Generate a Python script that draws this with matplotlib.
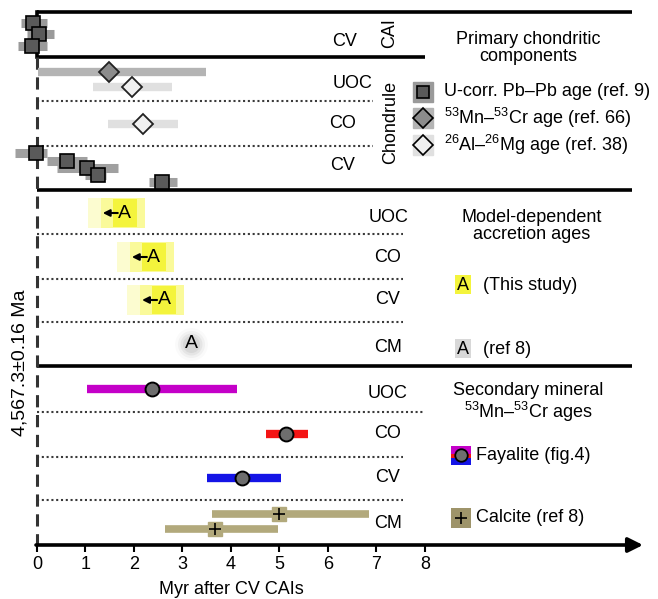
import matplotlib
matplotlib.use('Agg')
import matplotlib.pyplot as plt
from matplotlib.patches import Rectangle

plt.rcParams['font.family'] = ['Liberation Sans', 'DejaVu Sans']
plt.rcParams['mathtext.fontset'] = 'custom'
plt.rcParams['mathtext.rm'] = 'Liberation Sans'
plt.rcParams['mathtext.default'] = 'regular'

# ---- data (Myr after CV CAIs) ----
cai_age = [-0.08, 0.05, -0.10]
cai_lo = [-0.33, -0.20, -0.40]
cai_hi = [0.20, 0.35, 0.20]

uoc_mncr_age, uoc_mncr_lo, uoc_mncr_hi = 1.48, 0.02, 3.48
almg_groups = ['UOC', 'CO']
almg_age = [1.96, 2.18]
almg_lo = [1.16, 1.46]
almg_hi = [2.78, 2.90]

cv_pbpb_age = [-0.03, 0.61, 1.04, 1.26, 2.58]
cv_pbpb_lo = [-0.45, 0.20, 0.42, 1.00, 2.30]
cv_pbpb_hi = [0.20, 1.04, 1.68, 1.42, 2.88]

accr_groups = ['UOC', 'CO', 'CV', 'CM']
accr_age = [1.81, 2.41, 2.62, 3.18]
accr_upper = [True, True, True, False]

fay_groups = ['UOC', 'CO', 'CV']
fay_age = [2.37, 5.13, 4.22]
fay_lo = [1.03, 4.72, 3.50]
fay_hi = [4.12, 5.59, 5.03]
fay_colors = ['#c400c8', '#f41414', '#1414e6']

cal_age = [4.98, 3.67]
cal_lo = [3.60, 2.63]
cal_hi = [6.85, 4.96]

xticks = list(range(0, 9))

# ---- layout (pixel rows) ----
W, H = 658, 599
x0px, pxmyr = 37, 48.5
row_cai = [23, 34, 46]
row_uoc_mncr = 72
row_almg = [87, 124]
row_cv_pbpb = [153, 161, 168, 175, 182]
row_accr = [213, 257, 300, 344]
row_fay = [389, 434, 478]
row_cal = [514, 529]

fig = plt.figure(figsize=(W / 100, H / 100), dpi=100)
ax = fig.add_axes([0, 0, 1, 1])
ax.set_xlim(-x0px / pxmyr, (W - x0px) / pxmyr)
ax.set_ylim(H, 0)
ax.patch.set_visible(False)
for s in ['top', 'left', 'right', 'bottom']:
    ax.spines[s].set_visible(False)
ax.spines['bottom'].set_position(('data', 545))
ax.set_yticks([])
ax.set_xticks(xticks)
ax.tick_params(axis='x', length=5, width=1.5, labelsize=13, pad=3)

lay = fig.add_axes([0, 0, 1, 1], zorder=-1)
lay.set_xlim(0, W)
lay.set_ylim(H, 0)
lay.axis('off')

def mx(px):
    return px / pxmyr

# separators
for y, x1, lw in [(12, 632, 2.6), (57, 425, 2.6), (190, 632, 2.6), (366, 632, 2.6)]:
    lay.plot([x0px, x1], [y, y], color='black', lw=lw, solid_capstyle='butt')
for y, x1 in [(101, 373), (146, 373), (234, 403), (279, 403), (322, 403),
              (412, 423), (457, 403), (500, 403)]:
    lay.plot([x0px, x1], [y, y], color='#3a3a3a', lw=1.5, ls=(0, (1, 1.3)))
lay.plot([x0px, x0px], [12, 57], color='black', lw=2.6)
lay.plot([x0px, x0px], [57, 545], color='#333333', lw=2.2, ls=(0, (4, 2.5)))
lay.annotate('', xy=(643, 545), xytext=(x0px - 1, 545),
             arrowprops=dict(arrowstyle='-|>', lw=2.6, color='black',
                             mutation_scale=22, shrinkA=0, shrinkB=0))

# ---- primary components ----
ax.hlines(row_cai, cai_lo, cai_hi, color='#9a9a9a', lw=6.5, capstyle='butt', zorder=2)
ax.plot(cai_age, row_cai, 's', ms=9.5, mfc='#5a5a5a', mec='black', mew=1.2, ls='none', zorder=3)

ax.hlines(row_uoc_mncr, uoc_mncr_lo, uoc_mncr_hi, color='#b4b4b4', lw=6, capstyle='butt', zorder=2)
ax.plot(uoc_mncr_age, row_uoc_mncr, 'D', ms=10, mfc='#8c8c8c', mec='#222222', mew=1.3, zorder=3)
ax.hlines(row_almg, almg_lo, almg_hi, color='#e0e0e0', lw=6, capstyle='butt', zorder=2)
ax.plot(almg_age, row_almg, 'D', ms=10, mfc='#f0f0f0', mec='#222222', mew=1.3, ls='none', zorder=3)

ax.hlines(row_cv_pbpb, cv_pbpb_lo, cv_pbpb_hi, color='#a0a0a0', lw=6.5, capstyle='butt', zorder=2)
ax.plot(cv_pbpb_age, row_cv_pbpb, 's', ms=9.5, mfc='#5a5a5a', mec='black', mew=1.2, ls='none', zorder=3)

tk = dict(fontsize=13, ha='center', va='center')
lay.text(345, 42, 'CV', **tk)
lay.text(390, 33, 'CAI', rotation=90, **tk)
lay.text(353, 83, 'UOC', **tk)
lay.text(343, 124, 'CO', **tk)
lay.text(343, 166, 'CV', **tk)
lay.text(391, 122, 'Chondrule', rotation=90, **tk)
lay.text(528, 48, 'Primary chondritic\ncomponents', linespacing=1.05, **tk)

leg_x = 423
for y, fc, bg, mk in [(92, '#5a5a5a', '#9a9a9a', 's'), (118, '#8c8c8c', '#b4b4b4', 'D'),
                      (145, '#f0f0f0', '#e0e0e0', 'D')]:
    lay.add_patch(Rectangle((leg_x - 10, y - 10), 20, 20, color=bg, zorder=2))
    lay.plot(leg_x, y, mk, ms=9 if mk == 's' else 10, mfc=fc, mec='black', mew=1.2, zorder=3)
lt = dict(fontsize=13, ha='left', va='center')
lay.text(444, 92, 'U-corr. Pb–Pb age (ref. 9)', **lt)
lay.text(444, 118, '$^{53}$Mn–$^{53}$Cr age (ref. 66)', **lt)
lay.text(444, 145, '$^{26}$Al–$^{26}$Mg age (ref. 38)', **lt)

# ---- accretion ages ----
for age, y, up in zip(accr_age, row_accr, accr_upper):
    if up:
        ax.add_patch(Rectangle((age - mx(37), y - 15), mx(57), 30, color='#fcfcd0', lw=0, zorder=1))
        ax.add_patch(Rectangle((age - mx(24), y - 15), mx(44), 30, color='#fafa9a', lw=0, zorder=1))
        ax.add_patch(Rectangle((age - mx(12), y - 14), mx(24), 28, color='#f4f43c', lw=0, zorder=1))
        ax.annotate('', xy=(age - mx(22), y), xytext=(age - mx(7), y),
                    arrowprops=dict(arrowstyle='-|>', lw=1.5, color='black',
                                    mutation_scale=10, shrinkA=0, shrinkB=0), zorder=3)
    else:
        for s, a in [(560, 0.04), (380, 0.07), (250, 0.10), (150, 0.12)]:
            ax.scatter(age, y, s=s, color='#808080', alpha=a, lw=0, zorder=1)
    ax.text(age, y, 'A', fontsize=14, ha='center', va='center', zorder=4)

for g, y in zip(accr_groups, [218, 257, 300, 347]):
    lay.text(388 if g != 'UOC' else 389, y, g, **tk)
lay.text(532, 226, 'Model-dependent\naccretion ages', linespacing=1.05, **tk)
lay.add_patch(Rectangle((455, 275), 16, 19, color='#f4f43c', lw=0))
lay.text(463, 285, 'A', **tk)
lay.text(483, 285, '(This study)', **lt)
lay.add_patch(Rectangle((455, 339), 16, 19, color='#d8d8d8', lw=0))
lay.text(463, 349, 'A', **tk)
lay.text(483, 349, '(ref 8)', **lt)

# ---- secondary minerals ----
for lo, hi, age, y, c in zip(fay_lo, fay_hi, fay_age, row_fay, fay_colors):
    ax.hlines(y, lo, hi, color=c, lw=6, capstyle='butt', zorder=2)
    ax.plot(age, y, 'o', ms=10, mfc='#6e6e6e', mec='black', mew=1.4, zorder=3)

ax.hlines(row_cal, cal_lo, cal_hi, color='#b2a97c', lw=5.5, capstyle='butt', zorder=2)
ax.plot(cal_age, row_cal, 's', ms=10, mfc='#b2a97c', mec='#b2a97c', ls='none', zorder=3)
ax.plot(cal_age, row_cal, '+', ms=8, mec='black', mew=1.2, ls='none', zorder=4)

for g, y in zip(fay_groups + ['CM'], [393, 433, 477, 524]):
    lay.text(388, y, g, **tk)
lay.text(528, 403, 'Secondary mineral\n$^{53}$Mn–$^{53}$Cr ages', linespacing=1.05, **tk)
lay.add_patch(Rectangle((451, 446), 20, 8, color=fay_colors[0], lw=0))
lay.add_patch(Rectangle((451, 454), 20, 4, color=fay_colors[1], lw=0))
lay.add_patch(Rectangle((451, 458), 20, 7, color=fay_colors[2], lw=0))
lay.plot(461, 455, 'o', ms=9, mfc='#6e6e6e', mec='black', mew=1.3)
lay.text(476, 456, 'Fayalite (fig.4)', **lt)
lay.add_patch(Rectangle((451, 508), 20, 20, color='#9e946a', lw=0))
lay.plot(461, 518, '+', ms=8, mec='black', mew=1.2)
lay.text(476, 518, 'Calcite (ref 8)', **lt)

# axis labels
lay.text(20, 363, '4,567.3±0.16 Ma', rotation=90, fontsize=14, ha='center', va='center')
lay.text(231, 590, 'Myr after CV CAIs', fontsize=13, ha='center', va='center')

fig.savefig('out.png', dpi=100)
